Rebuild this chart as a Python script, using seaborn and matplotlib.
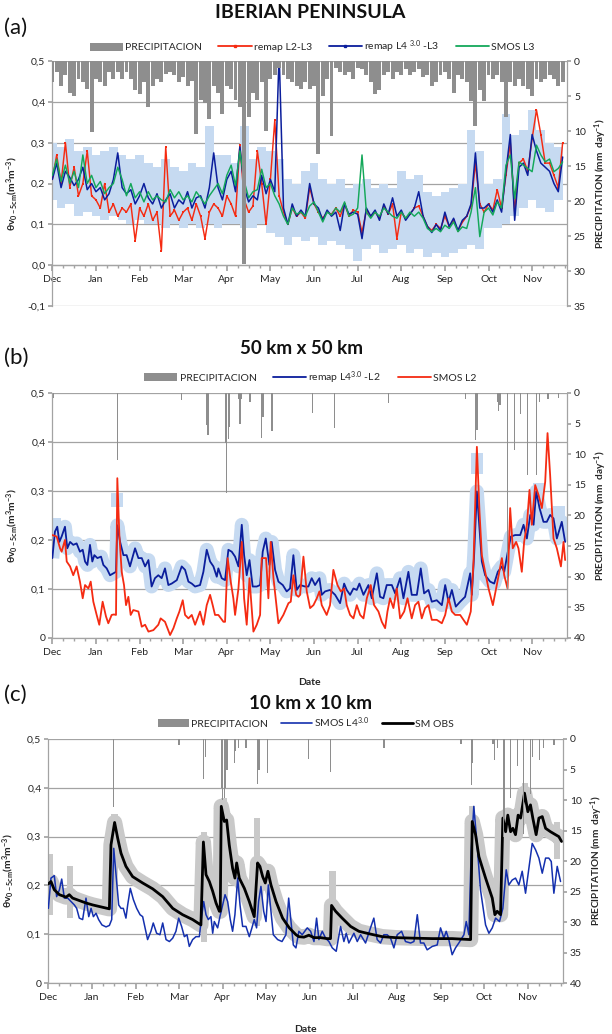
import numpy as np
import matplotlib
matplotlib.use("Agg")
import matplotlib.pyplot as plt
import seaborn as sns
from matplotlib.ticker import MultipleLocator, FuncFormatter
from matplotlib.patches import Patch
from matplotlib.lines import Line2D

sns.set_theme(style="white")
plt.rcParams["font.family"] = ["Lato", "DejaVu Sans"]
plt.rcParams["mathtext.fontset"] = "custom"
plt.rcParams["mathtext.rm"] = "Lato"
plt.rcParams["mathtext.it"] = "Lato:italic"
plt.rcParams["mathtext.bf"] = "Lato:bold"

# ---------------- data ----------------
MONTHS = ["Dec", "Jan", "Feb", "Mar", "Apr", "May", "Jun", "Jul", "Aug", "Sep", "Oct", "Nov"]
MONTH_DAY = [0, 30, 60, 90, 120, 150, 180, 210, 240, 270, 300, 330]

# Panel (a): values every 3 days (day 0..351)
a_day = list(range(0, 352, 3))
a_green = [0.22, 0.26, 0.205, 0.245, 0.20, 0.23, 0.19, 0.27, 0.20, 0.22,
           0.19, 0.205, 0.175, 0.19, 0.20, 0.24, 0.21, 0.17, 0.20, 0.165,
           0.18, 0.155, 0.18, 0.16, 0.17, 0.16, 0.155, 0.185, 0.165, 0.18,
           0.16, 0.17, 0.155, 0.18, 0.165, 0.15, 0.17, 0.185, 0.20, 0.175,
           0.22, 0.245, 0.195, 0.28, 0.205, 0.165, 0.18, 0.185, 0.235, 0.19,
           0.20, 0.17, 0.15, 0.12, 0.10, 0.14, 0.125, 0.13, 0.12, 0.145,
           0.155, 0.13, 0.106, 0.13, 0.123, 0.14, 0.13, 0.155, 0.12, 0.125,
           0.14, 0.27, 0.13, 0.115, 0.13, 0.12, 0.14, 0.13, 0.12, 0.115,
           0.13, 0.115, 0.13, 0.12, 0.13, 0.115, 0.09, 0.082, 0.09, 0.082,
           0.098, 0.09, 0.106, 0.082, 0.094, 0.09, 0.13, 0.19, 0.07, 0.13,
           0.14, 0.123, 0.155, 0.14, 0.245, 0.27, 0.163, 0.253, 0.245, 0.237,
           0.229, 0.294, 0.27, 0.253, 0.26, 0.229, 0.237, 0.253]
a_blue = [0.21, 0.25, 0.19, 0.23, 0.215, 0.195, 0.21, 0.24, 0.185, 0.20,
          0.18, 0.19, 0.16, 0.175, 0.21, 0.275, 0.19, 0.175, 0.185, 0.15,
          0.17, 0.20, 0.165, 0.15, 0.175, 0.14, 0.16, 0.175, 0.14, 0.16,
          0.15, 0.18, 0.14, 0.165, 0.17, 0.14, 0.19, 0.275, 0.19, 0.16,
          0.21, 0.23, 0.18, 0.29, 0.19, 0.155, 0.17, 0.16, 0.22, 0.175,
          0.21, 0.18, 0.52, 0.14, 0.10, 0.15, 0.12, 0.135, 0.12, 0.20,
          0.15, 0.14, 0.11, 0.135, 0.12, 0.13, 0.085, 0.15, 0.125, 0.13,
          0.125, 0.065, 0.14, 0.12, 0.135, 0.11, 0.15, 0.125, 0.165, 0.12,
          0.135, 0.11, 0.125, 0.14, 0.18, 0.12, 0.095, 0.08, 0.10, 0.085,
          0.13, 0.095, 0.115, 0.085, 0.11, 0.12, 0.15, 0.275, 0.14, 0.14,
          0.15, 0.13, 0.16, 0.13, 0.23, 0.32, 0.11, 0.24, 0.25, 0.22,
          0.32, 0.28, 0.25, 0.24, 0.23, 0.20, 0.18, 0.265]
a_red = [0.21, 0.27, 0.20, 0.30, 0.19, 0.24, 0.17, 0.20, 0.28, 0.17,
         0.16, 0.14, 0.20, 0.13, 0.15, 0.12, 0.14, 0.13, 0.15, 0.06,
         0.14, 0.12, 0.15, 0.11, 0.13, 0.035, 0.29, 0.12, 0.135, 0.11,
         0.13, 0.14, 0.11, 0.15, 0.12, 0.065, 0.13, 0.15, 0.14, 0.12,
         0.17, 0.15, 0.12, 0.295, 0.16, 0.13, 0.145, 0.28, 0.20, 0.10,
         0.21, 0.355, 0.17, 0.13, 0.10, 0.14, 0.12, 0.13, 0.115, 0.19,
         0.15, 0.13, 0.115, 0.13, 0.125, 0.14, 0.12, 0.15, 0.12, 0.135,
         0.13, 0.08, 0.135, 0.12, 0.13, 0.115, 0.145, 0.125, 0.15, 0.065,
         0.13, 0.115, 0.125, 0.14, 0.145, 0.12, 0.095, 0.085, 0.10, 0.09,
         0.12, 0.095, 0.11, 0.085, 0.105, 0.12, 0.145, 0.25, 0.15, 0.13,
         0.15, 0.135, 0.185, 0.14, 0.22, 0.30, 0.13, 0.25, 0.26, 0.23,
         0.31, 0.38, 0.32, 0.25, 0.25, 0.22, 0.19, 0.30]
a_prec = [3.0, 1.5, 3.5, 2.0, 4.5, 5.0, 2.5, 3.0, 4.0, 10.2,
          2.5, 3.0, 3.5, 1.5, 2.5, 1.5, 2.5, 1.5, 2.5, 4.2,
          4.7, 3.0, 6.6, 3.5, 2.5, 3.0, 1.8, 1.5, 2.0, 3.0,
          2.3, 3.5, 2.8, 10.4, 5.5, 6.0, 8.3, 3.5, 4.5, 7.5,
          3.5, 4.0, 5.5, 6.5, 29.0, 8.0, 4.5, 5.5, 3.0, 10.0,
          2.5, 2.0, 1.0, 2.0, 2.5, 3.0, 3.5, 4.0, 3.0, 4.0,
          3.5, 13.3, 5.0, 2.5, 10.7, 1.0, 1.5, 2.0, 1.5, 2.5,
          1.0, 1.2, 2.0, 3.0, 4.7, 4.2, 2.0, 1.5, 2.5, 1.5,
          2.0, 1.2, 2.0, 1.5, 1.2, 2.3, 2.0, 3.5, 3.0, 2.0,
          1.5, 2.5, 4.5, 2.0, 2.5, 3.0, 5.7, 9.3, 4.2, 5.7,
          2.0, 2.5, 2.0, 3.0, 8.0, 3.0, 3.5, 2.5, 3.5, 4.0,
          5.0, 2.5, 3.0, 2.5, 2.0, 2.5, 3.5, 3.0]
# Panel (a) spread band, every 6 days
a_band_day = list(range(0, 349, 6))
a_band_hi = [0.30, 0.29, 0.31, 0.28, 0.29, 0.27, 0.28, 0.29, 0.27, 0.26,
             0.27, 0.25, 0.24, 0.26, 0.24, 0.23, 0.25, 0.24, 0.34, 0.27,
             0.27, 0.25, 0.34, 0.26, 0.29, 0.28, 0.26, 0.21, 0.20, 0.23,
             0.25, 0.21, 0.20, 0.21, 0.19, 0.20, 0.21, 0.19, 0.20, 0.19,
             0.23, 0.21, 0.22, 0.18, 0.17, 0.18, 0.19, 0.20, 0.33, 0.28,
             0.20, 0.21, 0.37, 0.32, 0.33, 0.38, 0.33, 0.30, 0.29]
a_band_lo = [0.16, 0.14, 0.15, 0.12, 0.13, 0.12, 0.11, 0.12, 0.11, 0.10,
             0.11, 0.10, 0.10, 0.09, 0.10, 0.09, 0.10, 0.09, 0.10, 0.09,
             0.10, 0.10, 0.09, 0.09, 0.10, 0.08, 0.07, 0.05, 0.07, 0.06,
             0.07, 0.05, 0.06, 0.05, 0.04, 0.01, 0.04, 0.05, 0.03, 0.04,
             0.05, 0.03, 0.04, 0.02, 0.03, 0.02, 0.03, 0.04, 0.05, 0.04,
             0.09, 0.09, 0.10, 0.12, 0.14, 0.16, 0.14, 0.13, 0.16]

# Panel (b)
b_blue_day = [0, 1.8, 3.4, 4.8, 6.4, 8.7, 10.3, 12.2, 14.4, 16.7,
              19, 20.9, 22.5, 24.1, 25.9, 27.5, 28.9, 31, 33.5, 35.1,
              37.4, 39.7, 42, 43.8, 44.7, 46.6, 48.9, 51.1, 53.4, 56.9,
              59.2, 61.5, 63.8, 66.1, 68.3, 70.6, 72.9, 75.2, 77.5, 79.8,
              82.1, 85.6, 89, 91.3, 93.6, 95.9, 98.2, 101.6, 103.9, 106.2,
              108.5, 110.8, 113.1, 114.2, 116.5, 118.8, 121.1, 123.4, 125.7, 128,
              130.3, 131.9, 133.7, 135.6, 137.8, 140.6, 142.9, 144.7, 146.8, 149.3,
              150.9, 153.2, 155.5, 158.5, 161.2, 163.5, 165.8, 168.1, 170.4,
              173.8, 176.1, 178.4, 180.7, 183.7, 185.3, 187.6, 191, 194.5, 197.9,
              200.7, 202.5, 204.8, 207.1, 209.4, 211.2, 214, 217.4, 219.7, 223.2,
              225.4, 227.7, 230, 233.5, 235.8, 239.2, 241.5, 244.9, 247.2, 250.7,
              253.4, 255.7, 258.7, 261, 264.4, 267.9, 270.2, 272.5, 274.8, 277.5,
              280.5, 283.9, 287.4, 288.5, 290.1, 292, 293.8, 295.4, 297.7, 301.1,
              303.9, 306.4, 309.2, 310.8, 313.1, 315.4, 318.3, 321.8, 324.1, 326.4,
              328.7, 331, 332.8, 335.1, 337.8, 340.1, 342.4, 344.7, 347, 350.4,
              352.7]
b_blue_val = [0.163, 0.217, 0.227, 0.196, 0.207, 0.227, 0.183, 0.196, 0.19, 0.193,
              0.176, 0.18, 0.156, 0.149, 0.19, 0.156, 0.169, 0.163, 0.166, 0.149,
              0.142, 0.128, 0.132, 0.135, 0.23, 0.196, 0.169, 0.169, 0.146, 0.183,
              0.163, 0.163, 0.146, 0.159, 0.105, 0.122, 0.128, 0.122, 0.142, 0.108,
              0.111, 0.118, 0.146, 0.139, 0.115, 0.111, 0.105, 0.108, 0.135, 0.18,
              0.156, 0.146, 0.125, 0.142, 0.122, 0.118, 0.18, 0.176, 0.166, 0.146,
              0.231, 0.169, 0.128, 0.159, 0.105, 0.105, 0.108, 0.176, 0.203, 0.149,
              0.196, 0.139, 0.115, 0.108, 0.095, 0.101, 0.169, 0.098, 0.108,
              0.105, 0.105, 0.122, 0.108, 0.122, 0.088, 0.095, 0.098, 0.088, 0.071,
              0.111, 0.098, 0.088, 0.101, 0.098, 0.111, 0.088, 0.108, 0.081, 0.132,
              0.084, 0.081, 0.108, 0.108, 0.091, 0.122, 0.081, 0.135, 0.088, 0.088,
              0.142, 0.091, 0.098, 0.074, 0.077, 0.067, 0.108, 0.074, 0.098, 0.064,
              0.074, 0.084, 0.132, 0.088, 0.169, 0.299, 0.224, 0.156, 0.128, 0.115,
              0.111, 0.135, 0.146, 0.135, 0.173, 0.207, 0.21, 0.21, 0.231, 0.203,
              0.251, 0.231, 0.299, 0.265, 0.237, 0.237, 0.251, 0.244, 0.203, 0.237,
              0.196]
b_red_day = [0, 3, 5.3, 6.4, 8.7, 9.9, 12.2, 14.4, 16.7, 19,
             20.9, 22.5, 24.8, 26.4, 28.2, 30.5, 32.3, 34.6, 36.9, 38.5,
             40.8, 42.4, 43.8, 44.7, 46.1, 47.7, 49.3, 50.7, 52.3, 53.9,
             55.7, 59.2, 61.5, 63.8, 66.1, 69.5, 72.9, 74.5, 77.5, 81,
             83.3, 85.6, 87.4, 89.7, 91.3, 93.6, 95.9, 98.2, 101.6, 103.9,
             106.2, 108.5, 110.3, 111.9, 114.2, 117.7, 118.8, 120.6, 122.7, 124.5,
             125.7, 128, 130.3, 131.9, 133.7, 135.6, 138.3, 140.6, 142.9, 144,
             145.2, 147, 148.6, 150.2, 152.1, 155.5, 158.9, 162.4, 164, 165.8,
             167.7, 169.3,
             170.4, 172.7, 175, 177.3, 179.6, 181.9, 183.7, 185.3, 188.7, 191,
             193.3, 196.1, 198.4, 200.7, 202.5, 204.8, 207.1, 209.4, 211.7, 214,
             216.3, 219, 221.3, 224.3, 226.6, 228.9, 230.5, 232.3, 234.6, 236.9,
             239.2, 242, 244.3, 247.2, 249.5, 251.8, 254.1, 256.4, 258.7, 261,
             264.4, 267.9, 270.2, 272.5, 274.8, 277.1, 280.5, 282.8, 285.1, 287.8,
             289.7, 292, 293.8, 295.4, 297.7, 300, 303, 305.7, 309.2, 310.8,
             313.1, 314.9, 316.7, 319, 320.6, 322.9, 324.5, 326.4, 328.2, 329.8,
             332.1, 334.4, 336.7, 339, 340.6, 342.4, 344.7, 347, 349.8, 351.6,
             352.7]
b_red_val = [0.21, 0.207, 0.183, 0.176, 0.2, 0.156, 0.146, 0.128, 0.146, 0.115,
             0.081, 0.108, 0.101, 0.115, 0.074, 0.047, 0.027, 0.074, 0.044, 0.03,
             0.047, 0.048, 0.047, 0.326, 0.21, 0.135, 0.108, 0.067, 0.084, 0.047,
             0.057, 0.054, 0.023, 0.027, 0.013, 0.016, 0.027, 0.04, 0.033, 0.006,
             0.02, 0.04, 0.054, 0.077, 0.047, 0.04, 0.047, 0.027, 0.054, 0.027,
             0.067, 0.088, 0.067, 0.047, 0.047, 0.033, 0.033, 0.163, 0.115, 0.081,
             0.047, 0.101, 0.196, 0.081, 0.027, 0.122, 0.013, 0.027, 0.047, 0.163,
             0.163, 0.163, 0.081, 0.196, 0.122, 0.03, 0.047, 0.071, 0.074, 0.128,
             0.088, 0.084,
             0.088, 0.166, 0.095, 0.061, 0.067, 0.081, 0.095, 0.067, 0.047, 0.067,
             0.139, 0.108, 0.095, 0.101, 0.067, 0.047, 0.04, 0.067, 0.047, 0.04,
             0.081, 0.108, 0.067, 0.054, 0.033, 0.02, 0.054, 0.081, 0.061, 0.101,
             0.04, 0.054, 0.081, 0.04, 0.067, 0.074, 0.04, 0.061, 0.067, 0.037,
             0.037, 0.03, 0.047, 0.081, 0.054, 0.047, 0.047, 0.037, 0.027, 0.054,
             0.156, 0.39, 0.258, 0.169, 0.135, 0.101, 0.067, 0.108, 0.163, 0.128,
             0.101, 0.265, 0.183, 0.196, 0.183, 0.135, 0.196, 0.231, 0.302, 0.231,
             0.312, 0.292, 0.265, 0.319, 0.418, 0.332, 0.203, 0.183, 0.146, 0.196,
             0.159]
b_prec_day = [1, 45, 89, 106, 107, 119, 120, 121, 122, 128,
              129, 130, 136, 144, 145, 151, 179, 194, 231, 284,
              291, 292, 306, 307, 308, 313, 318, 322, 327, 333,
              335, 341, 348]
b_prec_mm = [0.9, 10.9, 1.1, 5.2, 6.8, 8.2, 16.4, 7.5, 5.5, 1.0,
             5.1, 1.0, 1.5, 7.3, 4.0, 6.2, 3.3, 5.8, 1.7, 1.0,
             7.7, 6.0, 1.5, 3.0, 2.0, 32.0, 9.3, 3.5, 13.4, 13.4,
             1.5, 1.0, 0.8]
b_blk_day = [2, 44.5, 292, 292, 334.5, 348.5]
b_blk_lo = [0.215, 0.268, 0.334, 0.217, 0.292, 0.237]
b_blk_hi = [0.245, 0.295, 0.377, 0.244, 0.316, 0.270]

# Panel (c)
c_obs_day = [0, 1.8, 4.1, 7.6, 12.2, 14.4, 16.7, 21.3, 25.9, 30.5,
             36.2, 42, 43.1, 45.6, 47.7, 50, 53.4, 58, 64.9, 71.8,
             78.7, 85.6, 92.4, 99.3, 105, 106.7, 108.5, 110.8, 113.1, 115.4,
             117.7, 118.3, 119, 121.1, 122.7, 124.5, 126.8, 128.4, 129.6, 131.4,
             134.9, 138.3, 141.7, 144, 145.6, 147.5, 149.3, 151.1, 153.2, 156.7,
             161.2, 165.8, 170.4,
             172.4, 175.9, 179.3, 182.8, 187.3, 191.9, 194.2, 194.9, 197.7, 202.2,
             208, 213.7, 220.6, 229.8, 238.9, 250.4, 264.2, 277.9, 290.6, 291.7,
             294, 296.3, 300.9, 305.5, 307.3, 308.9, 311.2, 312.8, 314.7, 316.2,
             318.1, 319.7, 321.5, 323.3, 325, 327.7, 330, 331.8, 333.4, 335.7,
             337.6, 339.9, 342.2, 345.6, 349, 351.3, 353.2]
c_obs_val = [0.203, 0.208, 0.191, 0.181, 0.176, 0.181, 0.174, 0.169, 0.164, 0.16,
             0.156, 0.152, 0.283, 0.329, 0.297, 0.266, 0.239, 0.218, 0.205, 0.193,
             0.177, 0.153, 0.14, 0.13, 0.119, 0.289, 0.222, 0.208, 0.188, 0.164,
             0.147, 0.147, 0.362, 0.331, 0.334, 0.283, 0.235, 0.215, 0.246, 0.215,
             0.194, 0.167, 0.136, 0.246, 0.239, 0.218, 0.205, 0.229, 0.201, 0.167,
             0.133, 0.113, 0.099,
             0.095, 0.094, 0.098, 0.093, 0.093, 0.091, 0.091, 0.159, 0.147, 0.133,
             0.116, 0.106, 0.101, 0.095, 0.093, 0.092, 0.091, 0.091, 0.089, 0.331,
             0.304, 0.259, 0.215, 0.174, 0.14, 0.147, 0.14, 0.338, 0.31, 0.344,
             0.31, 0.317, 0.304, 0.344, 0.338, 0.389, 0.351, 0.365, 0.338, 0.304,
             0.338, 0.341, 0.317, 0.31, 0.304, 0.3, 0.29]
c_l4_day = [0, 1.8, 4.1, 5.7, 7.6, 9.2, 11, 13.3, 15.6, 17.9,
            19.5, 21.3, 23.6, 25.9, 27.8, 29.4, 31, 32.8, 34.6, 36.9,
            39.7, 42, 43.6, 45, 46.6, 48.4, 50, 51.6, 53.4, 54.6,
            56.4, 58.5, 60.8, 63.1, 64.9, 68.3, 70.6, 72.2, 74.5, 76.8,
            78.7, 81, 83.3, 85.6, 87.8, 89.7, 91.7, 93.6, 95.4, 97,
            99.3, 101.6, 103.9, 105.5, 106.9, 108.5, 110.1, 111.9, 113.1, 114.2,
            116.5, 118.1, 120, 121.6, 123.4, 125.2, 126.8, 128.4, 130.3, 131.9,
            133.7, 136, 138.3, 140.1, 141.7, 143.3, 144.7, 146.3, 148.2, 149.8,
            151.4, 153.2, 154.8, 157.8, 160.8, 163.5, 165.4, 167, 168.6, 170.4,
            172.4, 174.7, 178.2, 180.5, 182.8, 184.6, 186.2, 188.5, 190.8, 193.1,
            195.4, 198.1, 201.1, 203.4, 205, 206.8, 210.3, 212.6, 214.9, 218.3,
            221.7, 224, 226.3, 228.6, 230.9, 233.2, 235.5, 237.8, 240.1, 243.1,
            245.8, 249.3, 251.6, 253.9, 256.1, 258.4, 260.7, 264.2, 267.6, 269.9,
            272.2, 273.8, 275.6, 277.9, 280.2, 282.5, 286, 287.6, 289.4, 291,
            292.8, 295.1, 297.4, 300.9, 303.2, 305.5, 307.8, 310.5, 312.8, 315.1,
            316.9, 319.2, 321.5, 323.8, 326.1, 328.4, 330.7, 333, 335.3, 337.6,
            339.9, 342.2, 344.4, 346.1, 347.9, 350.2, 352.5]
c_l4_val = [0.153, 0.215, 0.22, 0.177, 0.191, 0.213, 0.174, 0.174, 0.167, 0.16,
            0.153, 0.133, 0.13, 0.174, 0.136, 0.153, 0.136, 0.143, 0.13, 0.119,
            0.115, 0.118, 0.13, 0.276, 0.222, 0.16, 0.153, 0.153, 0.133, 0.16,
            0.194, 0.171, 0.153, 0.14, 0.136, 0.089, 0.106, 0.123, 0.102, 0.099,
            0.123, 0.089, 0.085, 0.092, 0.106, 0.133, 0.116, 0.095, 0.099, 0.075,
            0.089, 0.095, 0.095, 0.136, 0.167, 0.14, 0.13, 0.136, 0.102, 0.126,
            0.113, 0.136, 0.16, 0.181, 0.167, 0.13, 0.106, 0.14, 0.215, 0.16,
            0.116, 0.116, 0.095, 0.113, 0.13, 0.113, 0.167, 0.198, 0.147, 0.126,
            0.201, 0.147, 0.099, 0.089, 0.085, 0.099, 0.174, 0.126, 0.078, 0.072,
            0.106, 0.099, 0.113, 0.106, 0.085, 0.133, 0.089, 0.106, 0.092, 0.085,
            0.072, 0.065, 0.116, 0.085, 0.102, 0.082, 0.102, 0.085, 0.099, 0.082,
            0.113, 0.133, 0.089, 0.082, 0.099, 0.099, 0.092, 0.072, 0.099, 0.106,
            0.085, 0.082, 0.085, 0.14, 0.082, 0.082, 0.068, 0.075, 0.078, 0.113,
            0.092, 0.106, 0.089, 0.058, 0.072, 0.082, 0.099, 0.126, 0.099, 0.269,
            0.362, 0.283, 0.191, 0.119, 0.102, 0.113, 0.133, 0.126, 0.153, 0.232,
            0.201, 0.211, 0.215, 0.201, 0.229, 0.184, 0.235, 0.286, 0.273, 0.256,
            0.225, 0.256, 0.256, 0.249, 0.184, 0.239, 0.208]
c_prec_day = [45, 90, 107, 108, 119, 120, 121, 122, 123, 128,
              129, 131, 136, 144, 145, 151, 179, 194, 231, 284,
              291, 292, 306, 307, 309, 313, 314, 318, 323, 327,
              332, 333, 338, 341, 348]
c_prec_mm = [11.1, 1.0, 6.5, 3.0, 8.0, 10.0, 9.7, 8.0, 5.0, 4.0,
             2.0, 1.5, 1.5, 7.3, 5.0, 5.6, 3.2, 5.4, 1.5, 0.8,
             7.5, 4.0, 0.8, 3.5, 1.5, 16.0, 13.0, 9.6, 4.5, 15.6,
             9.0, 3.0, 3.5, 1.5, 1.0]
c_blk_day = [1, 15, 45.5, 107, 121, 143.5, 195.5, 291.5, 309.5, 328, 350]
c_blk_lo = [0.14, 0.133, 0.26, 0.085, 0.30, 0.116, 0.082, 0.085, 0.126, 0.33, 0.255]
c_blk_hi = [0.265, 0.239, 0.346, 0.31, 0.379, 0.338, 0.229, 0.362, 0.174, 0.41, 0.33]

# ---------------- style ----------------
PREC = "#8e8e8e"
LBLUE = "#c6daf1"
LGRAY = "#c9c9c9"
RED = "#f52b12"
NAVY = "#0b1e9c"
BLUE_C = "#1430ae"
GREEN = "#14a85a"
GRID = "#a3a3a3"
TXT = "#262626"


def xy(d, v):
    n = min(len(d), len(v))
    return np.asarray(d[:n], float), np.asarray(v[:n], float)


def fmt(zero_plain):
    def f(v, pos):
        if abs(v) < 1e-9:
            return "0" if zero_plain else "0,0"
        return f"{v:.1f}".replace(".", ",")
    return FuncFormatter(f)


def setup(ax, ax2, ymin, pmax, zero_plain):
    ax.set_xlim(0, 354)
    ax.set_ylim(ymin, 0.5)
    nt = int(round((0.5 - ymin) / 0.1)) + 1
    ax.set_yticks([round(ymin + 0.1 * i, 1) for i in range(nt)])
    ax.yaxis.set_major_formatter(fmt(zero_plain))
    ax.set_xticks(MONTH_DAY)
    ax.set_xticklabels(MONTHS)
    ax.xaxis.set_minor_locator(MultipleLocator(7.5))
    ax.grid(False)
    ax.yaxis.grid(True, color=GRID, lw=0.9)
    ax.set_axisbelow(True)
    for s in ["top", "right"]:
        ax.spines[s].set_visible(False)
    for s in ["left", "bottom"]:
        ax.spines[s].set_color(GRID)
        ax.spines[s].set_linewidth(0.9)
    if ymin < 0:
        ax.spines["bottom"].set_position(("data", 0))
    ax.tick_params(axis="x", which="major", bottom=True, direction="out", length=4,
                   color=GRID, labelsize=7.5, labelcolor=TXT, pad=3)
    ax.tick_params(axis="x", which="minor", bottom=True, direction="out", length=2.5, color=GRID)
    ax.tick_params(axis="y", left=True, direction="out", length=3, color=GRID,
                   labelsize=7.5, labelcolor=TXT, pad=2)
    ax2.set_ylim(pmax, 0)
    ax2.set_yticks(list(range(0, pmax + 1, 5)))
    ax2.grid(False)
    ax2.tick_params(axis="y", right=True, direction="out", length=3, color=GRID,
                    labelsize=7.5, labelcolor=TXT, pad=2)
    for s in ["top", "left", "bottom"]:
        ax2.spines[s].set_visible(False)
    ax2.spines["right"].set_color(GRID)
    ax2.spines["right"].set_linewidth(0.9)
    ax.set_ylabel(r"θv$_{\mathbf{0-5cm}}$(m$^{\mathbf{3}}$m$^{\mathbf{-3}}$)",
                  fontsize=7.5, fontweight="bold", color=TXT)
    ax.yaxis.set_label_coords(-0.062, 0.46)
    ax2.set_ylabel(r"PRECIPITATION (mm  day$^{\mathbf{-1}}$)", fontsize=7.2,
                   fontweight="bold", color=TXT)
    ax2.yaxis.set_label_coords(1.05, 0.5)


def line(ax, d, v, color, lw, z, marker=None):
    x, y = xy(d, v)
    kw = dict(x=x, y=y, ax=ax, color=color, lw=lw, estimator=None, sort=False,
              legend=False, zorder=z)
    if marker:
        kw.update(marker=marker, markersize=1.8, markeredgewidth=0)
    sns.lineplot(**kw)


fig = plt.figure(figsize=(6.12, 10.34), dpi=100)

# ---------------- panel (a) ----------------
axa = fig.add_axes([0.0855, 0.704, 0.841, 0.237])
axa2 = axa.twinx()
setup(axa, axa2, -0.1, 35, False)
bd, bh = xy(a_band_day, a_band_hi)
_, bl = xy(a_band_day, a_band_lo)
axa.bar(bd, bh - bl, bottom=bl, width=6, color=LBLUE, lw=0, zorder=1)
line(axa, a_day, a_red, RED, 1.05, 3, marker="s")
line(axa, a_day, a_blue, NAVY, 1.1, 4)
line(axa, a_day, a_green, GREEN, 1.05, 5)
pd_, pm = xy(a_day, a_prec)
axa2.bar(pd_, pm, width=2.7, color=PREC, lw=0, align="center")
axa.set_xlabel("")

fig.text(0.507, 0.988, "IBERIAN PENINSULA", ha="center", va="center",
         fontsize=14, fontweight="bold", color="#111111")
fig.text(0.006, 0.973, "(a)", ha="left", va="center", fontsize=16, color="#111111")
fig.legend([Patch(facecolor=PREC, edgecolor="none"),
            Line2D([0], [0], color=RED, lw=1.3, marker="s", ms=2),
            Line2D([0], [0], color=NAVY, lw=1.3, marker="s", ms=2),
            Line2D([0], [0], color=GREEN, lw=1.3)],
           ["PRECIPITACION", "remap L2-L3", r"remap L4 $^{\mathrm{3.0}}$ -L3", "SMOS L3"],
           loc="center", bbox_to_anchor=(0.51, 0.9545), ncol=4, frameon=False,
           fontsize=7.5, handlelength=3.2, handleheight=0.8, handletextpad=0.2,
           columnspacing=1.6)

# ---------------- panel (b) ----------------
axb = fig.add_axes([0.0855, 0.383, 0.841, 0.237])
axb2 = axb.twinx()
setup(axb, axb2, 0.0, 40, True)
x, y = xy(b_blue_day, b_blue_val)
axb.plot(x, y, color=LBLUE, lw=10, solid_joinstyle="round", solid_capstyle="butt", zorder=1)
kd, kh = xy(b_blk_day, b_blk_hi)
_, kl = xy(b_blk_day, b_blk_lo)
axb.bar(kd, kh - kl, bottom=kl, width=8, color=LBLUE, lw=0, zorder=1)
line(axb, b_blue_day, b_blue_val, NAVY, 1.3, 3)
line(axb, b_red_day, b_red_val, RED, 1.3, 4)
pd_, pm = xy(b_prec_day, b_prec_mm)
axb2.bar(pd_, pm, width=0.9, color=PREC, lw=0)
axb.set_xlabel("Date", fontsize=7.5, fontweight="bold", color=TXT)
axb.xaxis.set_label_coords(0.5, -0.163)
fig.text(0.492, 0.663, "50 km x 50 km", ha="center", va="center",
         fontsize=13.5, fontweight="bold", color="#111111")
fig.text(0.006, 0.654, "(b)", ha="left", va="center", fontsize=16, color="#111111")
fig.legend([Patch(facecolor=PREC, edgecolor="none"),
            Line2D([0], [0], color=NAVY, lw=1.3),
            Line2D([0], [0], color=RED, lw=1.3)],
           ["PRECIPITACION", r"remap L4$^{\mathrm{3.0}}$ -L2", "SMOS L2"],
           loc="center", bbox_to_anchor=(0.507, 0.635), ncol=3, frameon=False,
           fontsize=7.5, handlelength=3.2, handleheight=0.8, handletextpad=0.2,
           columnspacing=1.6)

# ---------------- panel (c) ----------------
axc = fig.add_axes([0.079, 0.0493, 0.8405, 0.236])
axc2 = axc.twinx()
setup(axc, axc2, 0.0, 40, True)
x, y = xy(c_obs_day, c_obs_val)
axc.plot(x, y, color=LGRAY, lw=11, solid_joinstyle="round", solid_capstyle="butt", zorder=1)
kd, kh = xy(c_blk_day, c_blk_hi)
_, kl = xy(c_blk_day, c_blk_lo)
axc.bar(kd, kh - kl, bottom=kl, width=4.5, color=LGRAY, lw=0, zorder=1)
line(axc, c_l4_day, c_l4_val, BLUE_C, 1.1, 3)
line(axc, c_obs_day, c_obs_val, "black", 2.0, 4)
pd_, pm = xy(c_prec_day, c_prec_mm)
axc2.bar(pd_, pm, width=0.9, color=PREC, lw=0)
axc.set_xlabel("Date", fontsize=7.5, fontweight="bold", color=TXT)
axc.xaxis.set_label_coords(0.5, -0.172)
fig.text(0.507, 0.32, "10 km x 10 km", ha="center", va="center",
         fontsize=13.5, fontweight="bold", color="#111111")
fig.text(0.006, 0.328, "(c)", ha="left", va="center", fontsize=16, color="#111111")
fig.legend([Patch(facecolor=PREC, edgecolor="none"),
            Line2D([0], [0], color=BLUE_C, lw=1.2),
            Line2D([0], [0], color="black", lw=2.0)],
           ["PRECIPITACION", r"SMOS L4$^{\mathrm{3.0}}$", "SM OBS"],
           loc="center", bbox_to_anchor=(0.5, 0.301), ncol=3, frameon=False,
           fontsize=7.5, handlelength=3.0, handleheight=0.8, handletextpad=0.2,
           columnspacing=1.2)

fig.savefig("out.png", dpi=100)
